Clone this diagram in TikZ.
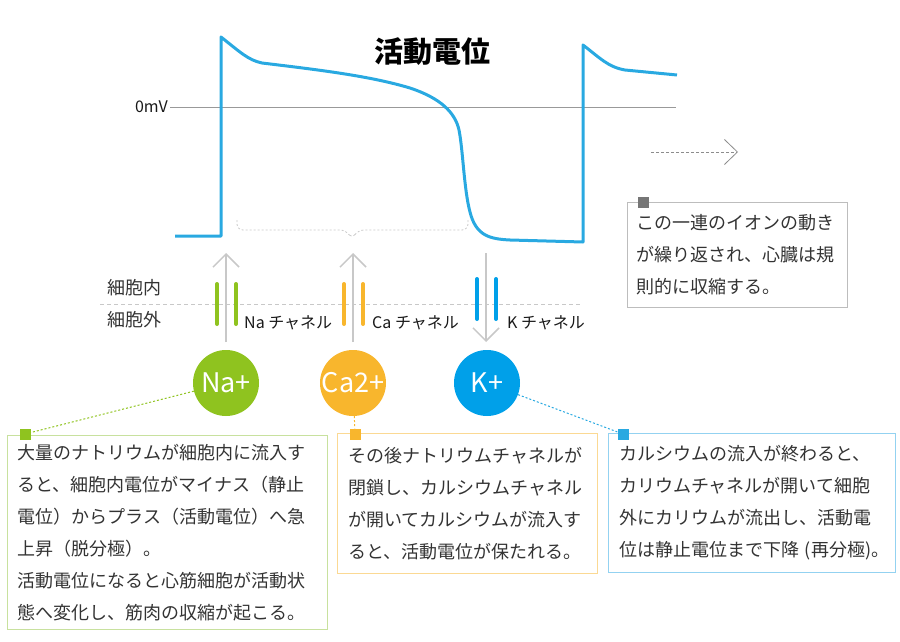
\documentclass[tikz,border=0pt]{standalone}
\usepackage{fontspec}
\setmainfont{Noto Sans CJK JP}
\usetikzlibrary{arrows.meta,positioning}
\definecolor{nagreen}{HTML}{8FC31F}
\definecolor{caorange}{HTML}{F8B62D}
\definecolor{kblue}{HTML}{00A0E9}
\definecolor{traceblue}{HTML}{29A9E1}
\definecolor{nalight}{HTML}{C8E19E}
\definecolor{calight}{HTML}{FBD993}
\definecolor{klight}{HTML}{93D2F1}
\definecolor{notegray}{HTML}{BDBDBD}
\definecolor{markgray}{HTML}{767676}
\definecolor{arrowgray}{HTML}{C8C8C8}
\definecolor{textgray}{HTML}{333333}

\begin{document}
\begin{tikzpicture}[x=1pt,y=-1pt,
    ion/.style={circle,minimum size=66pt,inner sep=0pt,text=white,
      font=\fontsize{27}{30}\selectfont},
    notebox/.style={draw=#1,line width=1pt,anchor=north west,align=left,
      inner sep=0pt,text=textgray,font=\fontsize{18}{32}\selectfont},
    marker/.style={minimum size=11pt,inner sep=0pt,fill=#1},
    flow/.style={draw=arrowgray,line width=1.5pt,
      -{Straight Barb[length=13pt,width=26pt,line width=1.5pt]}},
    bar/.style={line width=4pt,line cap=round},
    tag/.style={anchor=west,inner sep=0pt,text=black!90,font=\fontsize{16}{18}\selectfont},
    cell/.style={anchor=west,inner sep=0pt,text=textgray,font=\fontsize{18}{20}\selectfont},
    link/.style={line width=1pt,dash pattern=on 2pt off 2pt}]
 \useasboundingbox (0,0) rectangle (900,642);
 % title and zero line
 \node[font=\bfseries\fontsize{29}{34}\selectfont] (title) at (432,52) {活動電位};
 \node[anchor=east,inner sep=2pt,text=black!90,font=\fontsize{16}{18}\selectfont] (zero) at (170,107) {0mV};
 \coordinate (zeroend) at (676,107);
 \draw[black!40,line width=0.8pt] (zero.east) -- (zeroend);
 % action potential trace
 \draw[traceblue,line width=3pt,line join=round]
  (175,236) -- (221,236) -- (221,37)
  .. controls (240,52) and (248,60) .. (262,63)
  .. controls (320,70) and (370,76) .. (410,88)
  .. controls (440,98) and (455,112) .. (459,130)
  .. controls (463,150) and (464,190) .. (470,212)
  .. controls (476,236) and (490,239) .. (510,240)
  -- (583,242) -- (583,45)
  .. controls (600,58) and (608,67) .. (625,70) -- (677,75);
 % brace under the plateau
 \draw[arrowgray,line width=0.8pt,dash pattern=on 2pt off 2pt,rounded corners=6pt]
  (237,220) -- (237,230) -- (346,230) -- (352,239) -- (358,230) -- (468,230) -- (468,220);
 % next cycle
 \coordinate (nextfrom) at (651,152);
 \coordinate (nextto) at (738,152);
 \draw[black!45,line width=0.8pt,dash pattern=on 3pt off 2pt,
   -{Straight Barb[length=13pt,width=25pt,line width=0.8pt]}] (nextfrom) -- (nextto);
 % membrane
 \node[cell] (inside) at (107,288) {細胞内};
 \node[cell] (outside) at (107,320) {細胞外};
 \draw[arrowgray,line width=1pt,dash pattern=on 4pt off 3pt] (100,304) -- (580,304);
 % channels
 \coordinate (nalow) at (226,342);
 \coordinate (nahigh) at (226,253);
 \coordinate (calow) at (353,342);
 \coordinate (cahigh) at (353,253);
 \coordinate (khigh) at (486,253);
 \coordinate (klow) at (486,342);
 \draw[flow] (nalow) -- (nahigh);
 \draw[flow] (calow) -- (cahigh);
 \draw[flow] (khigh) -- (klow);
 \draw[bar,nagreen] (217,284) -- (217,324) (236,284) -- (236,324);
 \draw[bar,caorange] (344,284) -- (344,324) (363,284) -- (363,324);
 \draw[bar,kblue] (477,279) -- (477,319) (496,279) -- (496,319);
 \node[tag] (nachan) at (244,323) {Na チャネル};
 \node[tag] (cachan) at (372,323) {Ca チャネル};
 \node[tag] (kchan) at (507,323) {K チャネル};
 % ions
 \node[ion,fill=nagreen] (naion) at (226,383) {Na+};
 \node[ion,fill=caorange] (caion) at (353,383) {Ca2+};
 \node[ion,fill=kblue] (kion) at (487,383) {K+};
 % notes
 \node[notebox=nalight,minimum width=320pt,minimum height=194pt,text width=300pt] (nabox) at (7,435)
  {大量のナトリウムが細胞内に流入す\\ると、細胞内電位がマイナス（静止\\電位）からプラス（活動電位）へ急\\上昇（脱分極）。\\活動電位になると心筋細胞が活動状\\態へ変化し、筋肉の収縮が起こる。};
 \node[notebox=calight,minimum width=260pt,minimum height=140pt,text width=238pt] (cabox) at (337,433)
  {その後ナトリウムチャネルが\\閉鎖し、カルシウムチャネル\\が開いてカルシウムが流入す\\ると、活動電位が保たれる。};
 \node[notebox=klight,minimum width=287pt,minimum height=139pt,text width=266pt] (kbox) at (608,433)
  {カルシウムの流入が終わると、\\カリウムチャネルが開いて細胞\\外にカリウムが流出し、活動電\\位は静止電位まで下降~(再分極)。};
 \node[notebox=notegray,minimum width=220pt,minimum height=105pt,text width=202pt] (cyclebox) at (627,202)
  {この一連のイオンの動き\\が繰り返され、心臓は規\\則的に収縮する。};
 \node[marker=nagreen] (namark) at (25,434) {};
 \node[marker=caorange] (camark) at (355,434) {};
 \node[marker=traceblue] (kmark) at (623,434) {};
 \node[marker=markgray] (cyclemark) at (643,202) {};
 \draw[link,nagreen] (naion) -- (namark);
 \draw[link,caorange] (caion) -- (camark);
 \draw[link,traceblue] (kion) -- (kmark);
\end{tikzpicture}
\end{document}
